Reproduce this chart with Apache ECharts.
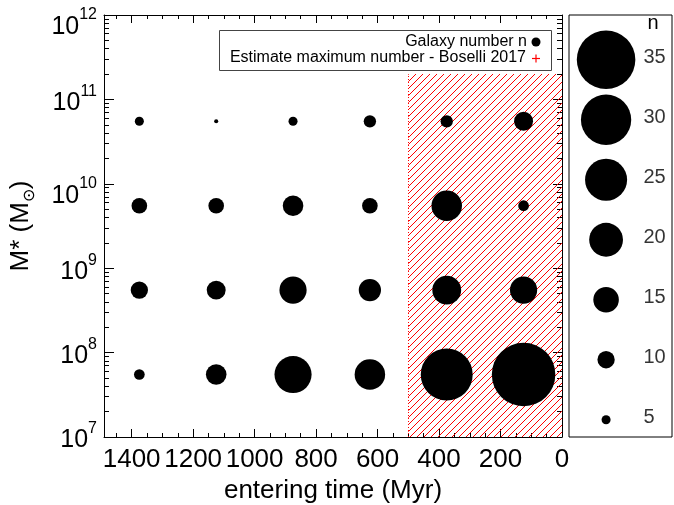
<!DOCTYPE html>
<html><head><meta charset="utf-8">
<script src="https://cdn.jsdelivr.net/npm/echarts@6/dist/echarts.min.js"></script>
<style>html,body{margin:0;padding:0;background:#fff}#c{width:674px;height:505px}</style>
</head><body><div id="c"></div>
<script>
// ---- data ----
const entryTimes = [1375, 1125, 875, 625, 375, 125];        // entering time, Myr
const massBins = [5.5e10, 5.5e9, 5.5e8, 5.5e7];              // stellar mass, Msun
const countsMass1 = [5, 2, 5, 7, 7, 11];      // M* ~ 5.5e10
const countsMass2 = [9, 9, 12, 9, 18, 6];     // M* ~ 5.5e9
const countsMass3 = [10, 11, 16, 13, 17, 16]; // M* ~ 5.5e8
const countsMass4 = [6, 12, 22, 18, 31, 38];  // M* ~ 5.5e7
const sizeKeyValues = [35, 30, 25, 20, 15, 10, 5];
const xMajorTicks = [0, 200, 400, 600, 800, 1000, 1200, 1400];
const xMinorTicks = [50,100,150,250,300,350,450,500,550,650,700,750,850,900,950,1050,1100,1150,1250,1300,1350,1450];
const yMajorTicks = [1e7, 1e8, 1e9, 1e10, 1e11, 1e12];
const yLabelsCentered = [1e7, 1e8, 1e9, 1e11];
const yLabelsLowered = [1e10, 1e12];
const bosTimeLimit = 500;     // hatched region: entering time < 500 Myr
const bosMassLimit = 2e11;    // up to this mass
const seriesName = 'Galaxy number n';
const estimateName = 'Estimate maximum number - Boselli 2017';

const countsByMass = [countsMass1, countsMass2, countsMass3, countsMass4];
const yMinorTicks = [];
for (let e = 7; e < 12; e++) for (let k = 2; k <= 9; k++) yMinorTicks.push(k * Math.pow(10, e));

const FONT = 'Liberation Sans, Arial, Helvetica, sans-serif';
const sizeOf = n => 1.65 * n + 0.8;
const points = [];
massBins.forEach((m, i) => entryTimes.forEach((t, j) => points.push([t, m, countsByMass[i][j]])));

// red hatch pattern
const pc = document.createElement('canvas');
pc.width = 7; pc.height = 7;
const g = pc.getContext('2d');
g.strokeStyle = '#ff0000'; g.lineWidth = 1;
g.beginPath();
g.moveTo(-1, 8); g.lineTo(8, -1);
g.moveTo(-8, 8); g.lineTo(1, -1);
g.moveTo(6, 8); g.lineTo(15, -1);
g.stroke();

const XMAX = 1490;
const tickStyle = {color: '#000', width: 1};
function xAx(pos, vals, len, labels, line) {
  return {
    type: 'value', gridIndex: 0, position: pos, min: 0, max: XMAX, inverse: true,
    axisLine: {show: line, onZero: false, lineStyle: {color: '#000', width: 1}},
    axisTick: {show: true, inside: true, length: len, customValues: vals, lineStyle: tickStyle},
    axisLabel: labels ? {show: true, customValues: xMajorTicks, margin: 10, fontSize: 26, color: '#000',
      fontFamily: FONT, hideOverlap: false, formatter: v => String(v)} : {show: false},
    splitLine: {show: false}
  };
}
function yAx(pos, vals, len, labelVals, lowered, line) {
  return {
    type: 'log', logBase: 10, gridIndex: 0, position: pos, min: 1e7, max: 1e12,
    axisLine: {show: line, onZero: false, lineStyle: {color: '#000', width: 1}},
    axisTick: {show: true, inside: true, length: len, customValues: vals, lineStyle: tickStyle},
    axisLabel: labelVals ? {
      show: true, customValues: labelVals, margin: 7, hideOverlap: false,
      formatter: v => '{b|10}{s|' + Math.round(Math.log10(v)) + '}',
      rich: {
        b: {fontSize: 25, lineHeight: 32, verticalAlign: 'bottom', color: '#000', fontFamily: FONT},
        s: lowered
          ? {fontSize: 16, lineHeight: 50, verticalAlign: 'middle', color: '#000', fontFamily: FONT}
          : {fontSize: 16, lineHeight: 14, verticalAlign: 'top', color: '#000', fontFamily: FONT}
      }
    } : {show: false},
    splitLine: {show: false}, minorSplitLine: {show: false}
  };
}
const xAxes = [
  xAx('bottom', xMajorTicks, 8, true, true),
  xAx('bottom', xMinorTicks, 4, false, false),
  xAx('top', xMajorTicks, 8, false, true),
  xAx('top', xMinorTicks, 4, false, false),
  {type: 'value', gridIndex: 1, min: 0, max: 1, show: false}
];
Object.assign(xAxes[0], {
  name: 'entering time (Myr)', nameLocation: 'middle', nameGap: 36,
  nameTextStyle: {fontSize: 26, color: '#000', fontFamily: FONT}
});
const yAxes = [
  yAx('left', yMajorTicks, 10, yLabelsCentered, false, true),
  yAx('left', yMinorTicks, 5, yLabelsLowered, true, false),
  yAx('right', yMajorTicks, 9, null, false, true),
  yAx('right', yMinorTicks, 5, null, false, false),
  {type: 'value', gridIndex: 1, min: 3.56, max: 38.73, show: false}
];
Object.assign(yAxes[0], {
  name: '{a|M* (M}{sub|⊙}{a|)}', nameLocation: 'middle', nameGap: 66,
  nameTextStyle: {
    color: '#000', fontFamily: FONT,
    rich: {
      a: {fontSize: 26, lineHeight: 30, verticalAlign: 'top', color: '#000', fontFamily: FONT},
      sub: {fontSize: 16, lineHeight: 14, verticalAlign: 'bottom', color: '#000', fontFamily: FONT}
    }
  }
});
const chart = echarts.init(document.getElementById('c'), null, {renderer: 'canvas'});
chart.setOption({
  animation: false, backgroundColor: '#fff',
  grid: [
    {left: 104, right: 112, top: 15, bottom: 68, outerBoundsMode: 'none', containLabel: false},
    {left: 569, top: 15, width: 103, height: 422, show: true, borderColor: '#000', borderWidth: 1,
     backgroundColor: 'transparent', outerBoundsMode: 'none', containLabel: false}
  ],
  xAxis: xAxes, yAxis: yAxes,
  series: [
    {name: estimateName, type: 'scatter', xAxisIndex: 0, yAxisIndex: 0, data: [], z: 1, silent: true,
      markArea: {silent: true, itemStyle: {color: {image: pc, repeat: 'repeat'}, opacity: 1, borderWidth: 0},
        data: [[{coord: [bosTimeLimit, bosMassLimit]}, {coord: [0, 1e7]}]]},
      markLine: {silent: true, symbol: 'none', label: {show: false},
        lineStyle: {color: '#ff0000', type: [1, 2], width: 1},
        data: [[{coord: [bosTimeLimit, 1e7]}, {coord: [bosTimeLimit, bosMassLimit]}]]}},
    {name: seriesName, type: 'scatter', xAxisIndex: 0, yAxisIndex: 0, z: 5, data: points,
      symbol: 'circle', symbolSize: v => sizeOf(v[2]), itemStyle: {color: '#000', opacity: 1}},
    {name: 'sizeKey', type: 'scatter', xAxisIndex: 4, yAxisIndex: 4,
      data: sizeKeyValues.map(n => [0.36, n]), symbolSize: v => sizeOf(v[1]), itemStyle: {color: '#000', opacity: 1}},
    {name: 'sizeKeyLabels', type: 'scatter', xAxisIndex: 4, yAxisIndex: 4,
      data: sizeKeyValues.map(n => [0.718, n]), symbolSize: 1, itemStyle: {color: 'rgba(0,0,0,0)'},
      label: {show: true, position: 'right', distance: 0, offset: [0, -2],
        formatter: p => String(p.value[1]), fontSize: 20, color: '#000', fontFamily: FONT}}
  ],
  graphic: [
    {type: 'text', style: {text: 'n', x: 653, y: 23, align: 'center', verticalAlign: 'middle', fontSize: 20, fontFamily: FONT, fill: '#000'}},
    {type: 'rect', shape: {x: 219.5, y: 30.5, width: 332, height: 40}, style: {fill: '#fff', stroke: '#444', lineWidth: 1}, z: 10},
    {type: 'text', z: 11, style: {text: seriesName, x: 527, y: 42, align: 'right', verticalAlign: 'middle', fontSize: 16, fontFamily: FONT, fill: '#000'}},
    {type: 'text', z: 11, style: {text: estimateName, x: 526, y: 57.5, align: 'right', verticalAlign: 'middle', fontSize: 16, fontFamily: FONT, fill: '#000'}},
    {type: 'circle', z: 11, shape: {cx: 536, cy: 42, r: 4.5}, style: {fill: '#000'}},
    {type: 'line', z: 11, shape: {x1: 532, y1: 58.5, x2: 540, y2: 58.5}, style: {stroke: '#ff0000', lineWidth: 1.2}},
    {type: 'line', z: 11, shape: {x1: 536, y1: 54.5, x2: 536, y2: 62.5}, style: {stroke: '#ff0000', lineWidth: 1.2}}
  ]
});
</script>
</body></html>
